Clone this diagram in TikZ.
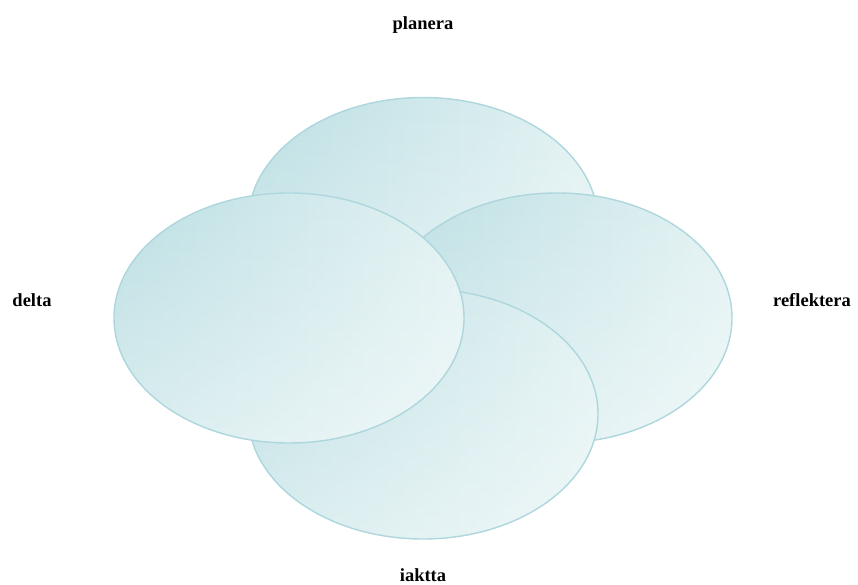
\documentclass[tikz,border=0pt]{standalone}
\usepackage{fontspec}
\setmainfont{Liberation Serif}
\usetikzlibrary{fadings}
\definecolor{cdark}{HTML}{BCDFE3}
\definecolor{clight}{HTML}{E3F2F3}
\definecolor{cedge}{HTML}{ADD7DD}
\tikzset{
  petalshade/.style={left color=cdark, right color=clight, shading angle=90},
  petalglow/.style={fill=white, path fading=north, fill opacity=0.45},
  petaledge/.style={draw=cedge, line width=1.4pt},
  lbl/.style={font=\bfseries\fontsize{18.5}{20}\selectfont, text=black, anchor=base, inner sep=0pt}
}
\begin{document}
\begin{tikzpicture}[x=1pt,y=1pt]
\useasboundingbox (0,0) rectangle (858,-585);
% top
\shade[petalshade] (423,-222.5) ellipse (175 and 125);
\fill[petalglow] (423,-222.5) ellipse (175 and 125);
\draw[petaledge] (423,-222.5) ellipse (175 and 125);
% right
\shade[petalshade] (557,-318) ellipse (175 and 125);
\fill[petalglow] (557,-318) ellipse (175 and 125);
\draw[petaledge] (557,-318) ellipse (175 and 125);
% bottom
\shade[petalshade] (423,-414) ellipse (175 and 125);
\fill[petalglow] (423,-414) ellipse (175 and 125);
\draw[petaledge] (423,-414) ellipse (175 and 125);
% left
\shade[petalshade] (289,-318) ellipse (175 and 125);
\fill[petalglow] (289,-318) ellipse (175 and 125);
\draw[petaledge] (289,-318) ellipse (175 and 125);
% labels
\node[lbl] (planera) at (423,-30) {planera};
\node[lbl] (delta) at (32,-306) {delta};
\node[lbl] (reflektera) at (812,-306.5) {reflektera};
\node[lbl] (iaktta) at (423,-581.5) {iaktta};
\end{tikzpicture}
\end{document}
